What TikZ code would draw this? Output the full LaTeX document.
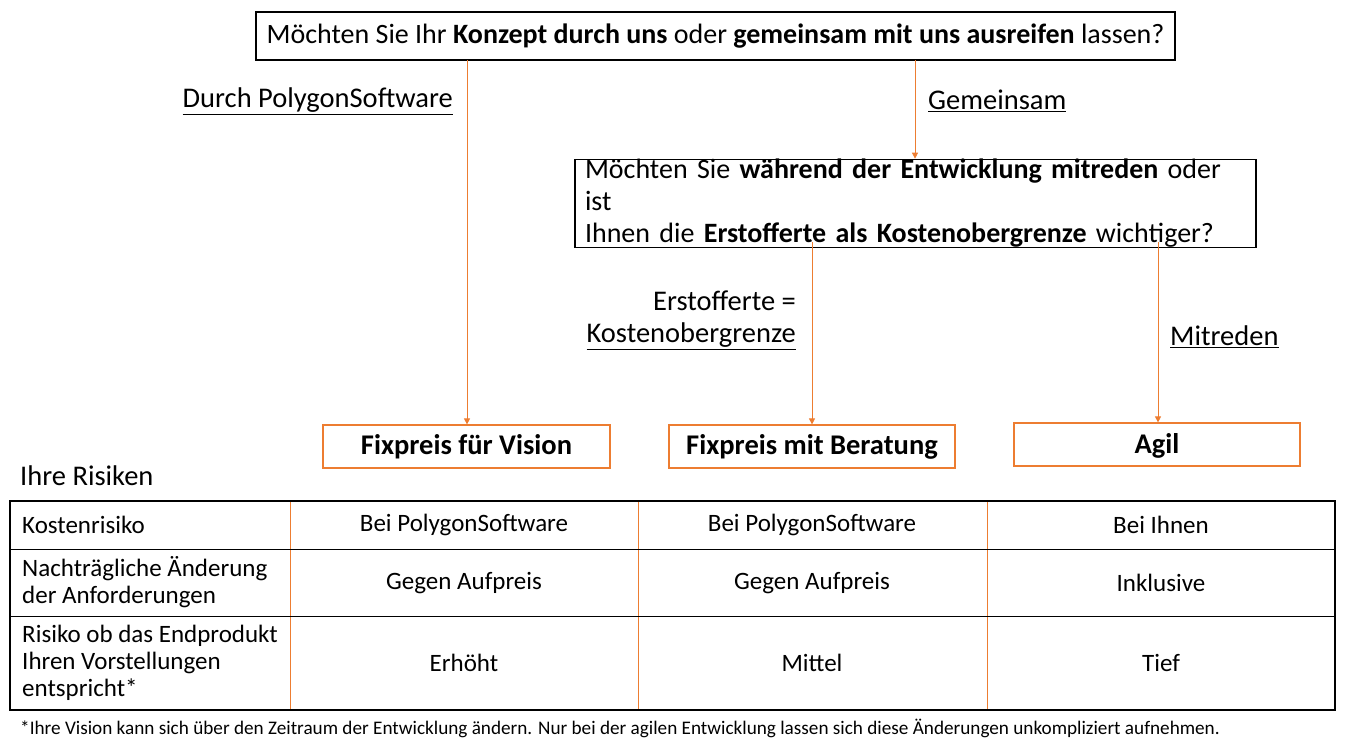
\documentclass[tikz,border=0pt]{standalone}
\usepackage{fontspec}
\setmainfont{Carlito}
\usetikzlibrary{arrows.meta}
\definecolor{org}{HTML}{ED7D31}
\begin{document}
\begin{tikzpicture}[x=1pt,y=-1pt,
 q/.style={draw=black,line width=1.2pt,inner sep=0pt,font=\fontsize{28}{32}\selectfont},
 res/.style={draw=org,line width=1.2pt,inner sep=0pt,font=\fontsize{28.5}{32}\selectfont\bfseries},
 arr/.style={org,line width=0.8pt,-{Triangle[length=6pt,width=6pt]}},
 lab/.style={font=\fontsize{28.5}{32}\selectfont,inner sep=0pt},
 cell/.style={font=\fontsize{25}{27}\selectfont,inner sep=0pt,align=left},
 cc/.style={font=\fontsize{25}{27}\selectfont,inner sep=0pt}]
\useasboundingbox (0,0) rectangle (1348,747);
\node[q,minimum width=919pt,minimum height=48pt] (q1) at (715.5,36) {Möchten Sie Ihr \textbf{Konzept durch uns} oder \textbf{gemeinsam mit uns ausreifen} lassen?};
\node[q,minimum width=681pt,minimum height=77pt,align=left,text width=661pt] (q2) at (915.5,203.5) {\raggedright Möchten Sie \textbf{während der Entwicklung mitreden} oder ist\\Ihnen die \textbf{Erstofferte als Kostenobergrenze} wichtiger?};
\node[res,minimum width=287pt,minimum height=43pt] (r1) at (466.5,446.5) {Fixpreis für Vision};
\node[res,minimum width=286pt,minimum height=43pt] (r2) at (812,446.5) {Fixpreis mit Beratung};
\node[res,minimum width=286pt,minimum height=43pt,text depth=3pt] (r3) at (1157,444.5) {Agil};
\coordinate (a1) at (467,60); \coordinate (a2) at (915,60);
\coordinate (b1) at (812,242); \coordinate (b2) at (1158,242);
\draw[arr] (a1) -- (r1.north -| a1);
\draw[arr] (a2) -- (q2.north -| a2);
\draw[arr] (b1) -- (r2.north -| b1);
\draw[arr] (b2) -- (r3.north -| b2);
\node[lab,anchor=east] (l1) at (453,101) {\underline{Durch PolygonSoftware}};
\node[lab,anchor=west] (l2) at (928,101) {\underline{Gemeinsam}};
\node[lab,anchor=east,align=right] (l3) at (796,320) {Erstofferte =\\\underline{Kostenobergrenze}};
\node[lab,anchor=west] (l4) at (1170,337) {\underline{Mitreden}};
\node[lab,anchor=west] (ir) at (20,476) {Ihre Risiken};
% table
\foreach \x in {290,638,987} \draw[org,line width=1pt] (\x,501) -- (\x,710);
\foreach \y in {549,616} \draw[line width=1pt] (10,\y) -- (1335,\y);
\draw[line width=1.2pt] (10,501) rectangle (1335,710);
\node[cell,anchor=west] (c11) at (22,525) {Kostenrisiko};
\node[cell,anchor=west] (c21) at (22,582.5) {Nachträgliche Änderung\\der Anforderungen};
\node[cell,anchor=west] (c31) at (22,663) {Risiko ob das Endprodukt\\Ihren Vorstellungen\\entspricht*};
\node[cc] at (464,525) {Bei PolygonSoftware};
\node[cc] at (812,525) {Bei PolygonSoftware};
\node[cc] at (1161,525) {Bei Ihnen};
\node[cc] at (464,583) {Gegen Aufpreis};
\node[cc] at (812,583) {Gegen Aufpreis};
\node[cc] at (1161,583) {Inklusive};
\node[cc] at (464,663) {Erhöht};
\node[cc] at (812,663) {Mittel};
\node[cc] at (1161,663) {Tief};
\node[anchor=west,inner sep=0pt,font=\fontsize{19.2}{22}\selectfont] (fn) at (20,728) {*Ihre Vision kann sich über den Zeitraum der Entwicklung ändern. Nur bei der agilen Entwicklung lassen sich diese Änderungen unkompliziert aufnehmen.};
\end{tikzpicture}
\end{document}
